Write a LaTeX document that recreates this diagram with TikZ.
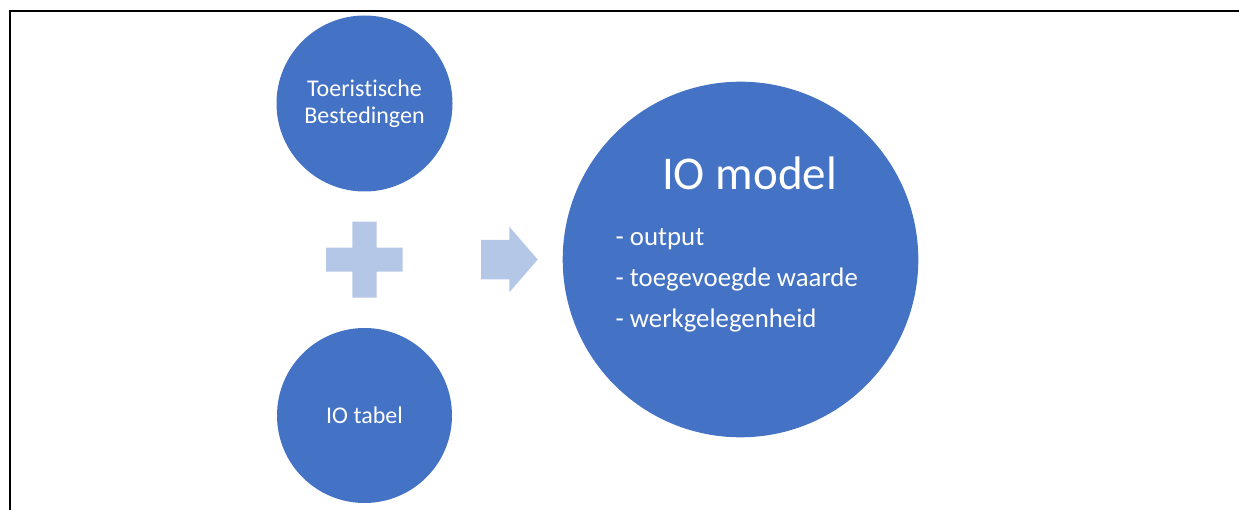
\documentclass[tikz,border=0pt]{standalone}
\usepackage{fontspec}
\setmainfont[Ligatures=NoCommon]{Carlito}
\definecolor{accent}{HTML}{4472C4}
\definecolor{light}{HTML}{B4C7E7}
\begin{document}
\begin{tikzpicture}[x=1pt,y=-1pt,
  bigcirc/.style={circle, fill=accent, draw=none, inner sep=0pt},
  circtext/.style={text=white, align=center, font=\fontsize{24}{27.5}\selectfont},
  listtext/.style={text=white, anchor=base west, inner sep=0pt, font=\fontsize{26.8}{30}\selectfont},
  frameline/.style={line width=2.5pt, black}]
\useasboundingbox (0,0) rectangle (1239,510);
% frame (top and left)
\coordinate (fl) at (10,510);
\coordinate (fc) at (10,11);
\coordinate (fr) at (1239,11);
\draw[frameline] (fl) -- (fc) -- (fr);
% circles
\node[bigcirc, minimum size=176pt] (tour) at (364.5,103.5) {};
\node[circtext] (tourtext) at (364.5,103.5) {Toeristische\\Bestedingen};
\node[bigcirc, minimum size=175pt] (tabel) at (364.5,415.5) {};
\node[circtext, anchor=base, inner sep=0pt] (tabeltext) at (364.5,423.3) {IO tabel};
\node[bigcirc, minimum size=355.6pt] (model) at (740.5,259.5) {};
\node[text=white, anchor=base, inner sep=0pt, font=\fontsize{47}{50}\selectfont] (modeltitle) at (749.5,190) {IO model};
\node[listtext] (item1) at (615.5,245.7) {- output};
\node[listtext] (item2) at (615.5,286.2) {- toegevoegde waarde};
\node[listtext] (item3) at (615.5,327.3) {- werkgelegenheid};
% plus sign
\fill[light] (352.3,221.7) -- (376.7,221.7) -- (376.7,247.7) -- (402.7,247.7) -- (402.7,271.7)
  -- (376.7,271.7) -- (376.7,297.7) -- (352.3,297.7) -- (352.3,271.7) -- (326,271.7)
  -- (326,247.7) -- (352.3,247.7) -- cycle;
% arrow
\fill[light] (481,240) -- (509.3,240) -- (509.3,226.7) -- (537.7,259.5) -- (509.3,292.3)
  -- (509.3,279.3) -- (481,279.3) -- cycle;
\end{tikzpicture}
\end{document}
